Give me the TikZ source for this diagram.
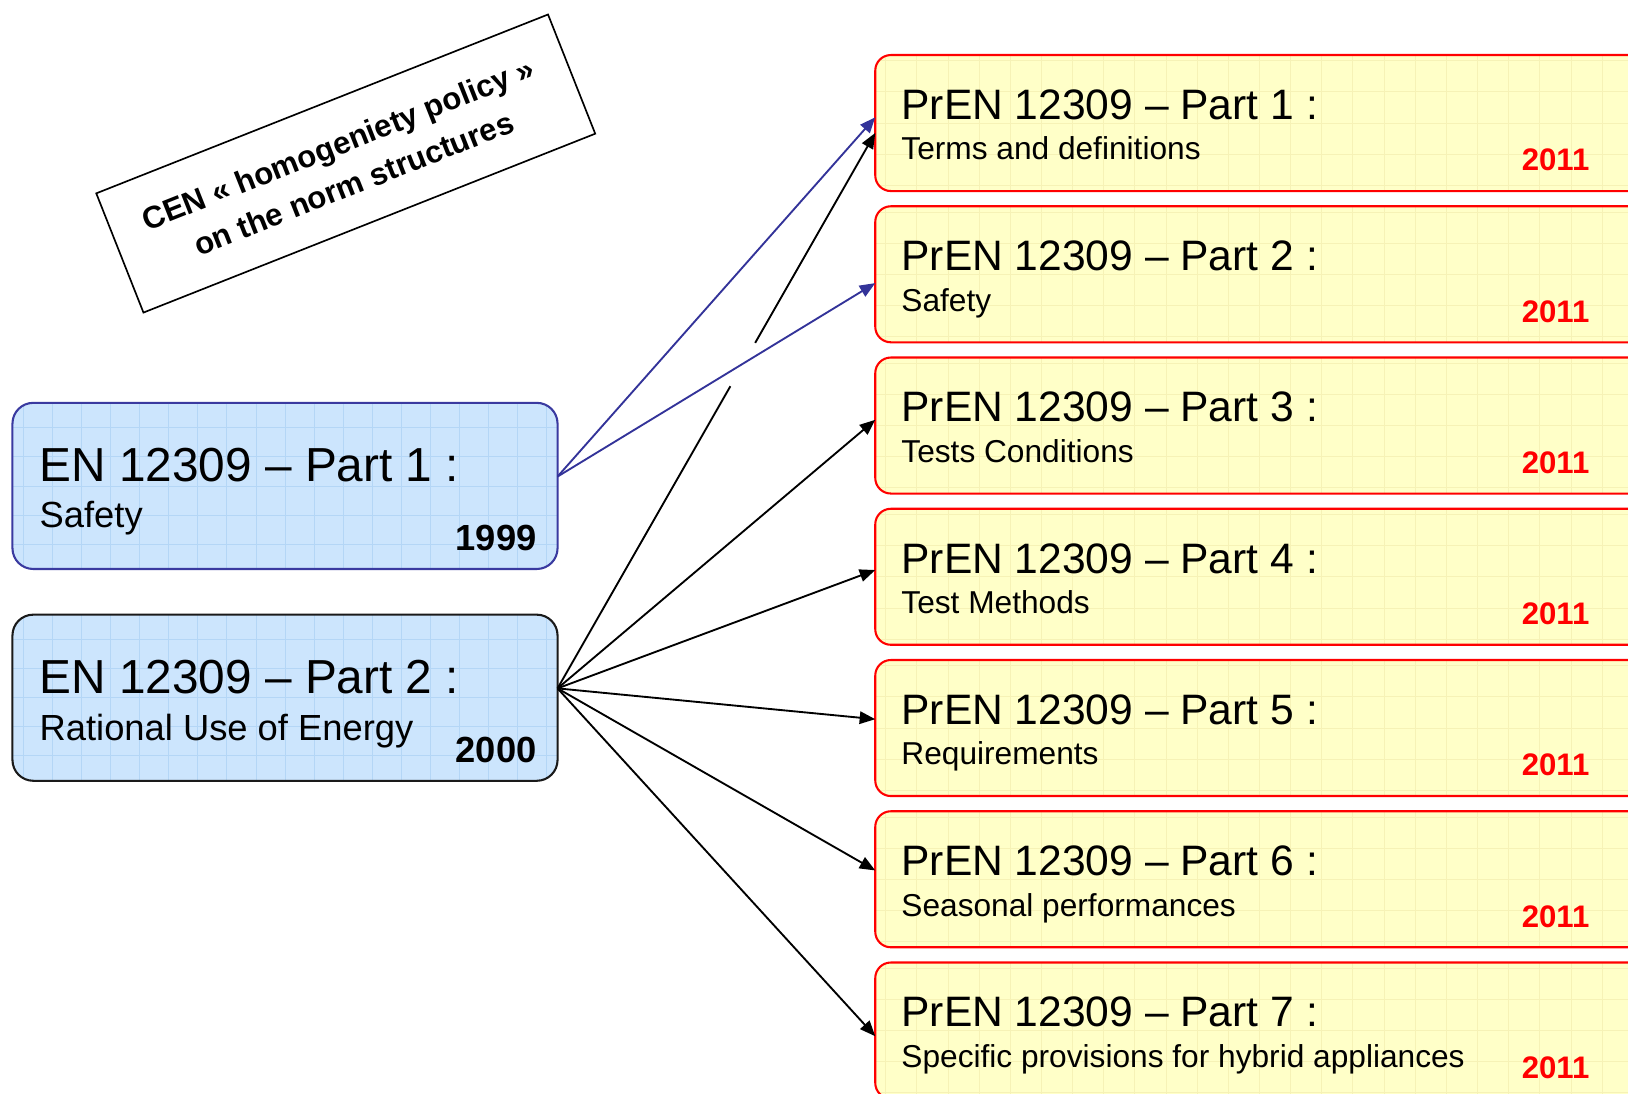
\documentclass[tikz,border=0pt]{standalone}
\usepackage{fontspec}
\setmainfont{Liberation Sans}
\usetikzlibrary{arrows.meta,calc}
\definecolor{bluefill}{HTML}{CCE5FD}
\definecolor{bluegrid}{HTML}{B4D6F6}
\definecolor{bluebd}{HTML}{3A3AA0}
\definecolor{darkbd}{HTML}{1A1A1A}
\definecolor{yelfill}{HTML}{FFFFC8}
\definecolor{yelgrid}{HTML}{F6F2B6}
\definecolor{redbd}{HTML}{FF0000}
\definecolor{arrblue}{HTML}{333399}
\begin{document}
\begin{tikzpicture}[x=1pt,y=-1pt,
  bluebox/.style={anchor=north west, minimum width=525pt, minimum height=160pt,
    rounded corners=20pt, fill=bluefill, line width=2pt, inner sep=0pt, outer sep=0pt,
    path picture={\draw[bluegrid, line width=0.8pt, step=28pt]
      (path picture bounding box.south west) grid (path picture bounding box.north east);}},
  yelbox/.style={anchor=north west, minimum width=800pt, minimum height=131pt,
    rounded corners=15pt, fill=yelfill, draw=redbd, line width=2pt, inner sep=0pt, outer sep=0pt,
    path picture={\draw[yelgrid, line width=0.8pt, step=30pt]
      (path picture bounding box.south west) grid (path picture bounding box.north east);}},
  bttl/.style={anchor=base west, inner sep=0pt, font=\fontsize{46}{52}\selectfont},
  bsub/.style={anchor=base west, inner sep=0pt, font=\fontsize{35}{40}\selectfont},
  byr/.style={anchor=base east, inner sep=0pt, font=\bfseries\fontsize{35}{40}\selectfont},
  yttl/.style={anchor=base west, inner sep=0pt, font=\fontsize{41}{46}\selectfont},
  ysub/.style={anchor=base west, inner sep=0pt, font=\fontsize{30.5}{35}\selectfont},
  yyr/.style={anchor=base east, inner sep=0pt, text=redbd, font=\bfseries\fontsize{30}{35}\selectfont},
  arr/.style={line width=1.8pt, -{Triangle[length=15pt,width=12pt]}},
  barr/.style={arr, draw=arrblue, fill=arrblue},
  karr/.style={arr, draw=black},
  kline/.style={line width=1.8pt, draw=black}
]
\clip (0,0) rectangle (1568,1053);
\fill[white] (0,0) rectangle (1568,1053);

% rotated label
\node[draw, line width=1.6pt, rotate=21.6, minimum width=468pt, minimum height=123.5pt,
  align=center, inner sep=0pt, font=\bfseries\fontsize{30}{41}\selectfont] (cen) at (333,157.5)
  {CEN « homogeniety policy »\\on the norm structures};

% blue boxes
\node[bluebox, draw=bluebd] (b1) at (12,388) {};
\node[bttl] (b1t) at (38,464) {EN 12309 – Part 1 :};
\node[bsub] (b1s) at (38,508) {Safety};
\node[byr] (b1y) at (517,530) {1999};

\node[bluebox, draw=darkbd] (b2) at (12,592) {};
\node[bttl] (b2t) at (38,668) {EN 12309 – Part 2 :};
\node[bsub] (b2s) at (38,713) {Rational Use of Energy};
\node[byr] (b2y) at (517,734) {2000};

% yellow boxes
\foreach \i/\s in {1/Terms and definitions, 2/Safety, 3/Tests Conditions, 4/Test Methods,
                   5/Requirements, 6/Seasonal performances, 7/Specific provisions for hybrid appliances}{
  \pgfmathsetmacro{\top}{53+145.67*(\i-1)}
  \node[yelbox] (y\i) at (843,\top) {};
  \node[yttl] (y\i t) at (868,\top+62) {PrEN 12309 – Part \i\ :};
  \node[ysub] (y\i s) at (868,\top+101) {\s};
  \node[yyr] (y\i y) at (1531,\top+111.5) {2011};
}

% connector end points
\coordinate (s1) at ([yshift=9pt]b1.east);
\coordinate (s2) at ([yshift=9pt]b2.east);
\coordinate (t1a) at ([yshift=-60pt]y1.north west);
\coordinate (t1b) at ([yshift=-75pt]y1.north west);
\coordinate (t2) at ([yshift=-74pt]y2.north west);
\coordinate (t3) at ([yshift=-60pt]y3.north west);
\coordinate (t4) at ([yshift=-59pt]y4.north west);
\coordinate (t5) at ([yshift=-57pt]y5.north west);
\coordinate (t6) at ([yshift=-57pt]y6.north west);
\coordinate (t7) at ([yshift=-71pt]y7.north west);
\coordinate (g1) at ($(s2)!0.544!(t1b)$);
\coordinate (g2) at ($(s2)!0.622!(t1b)$);

% connectors
\draw[barr] (s1) -- (t1a);
\draw[barr] (s1) -- (t2);
\draw[kline] (s2) -- (g1);
\draw[karr] (g2) -- (t1b);
\draw[karr] (s2) -- (t3);
\draw[karr] (s2) -- (t4);
\draw[karr] (s2) -- (t5);
\draw[karr] (s2) -- (t6);
\draw[karr] (s2) -- (t7);
\end{tikzpicture}
\end{document}
